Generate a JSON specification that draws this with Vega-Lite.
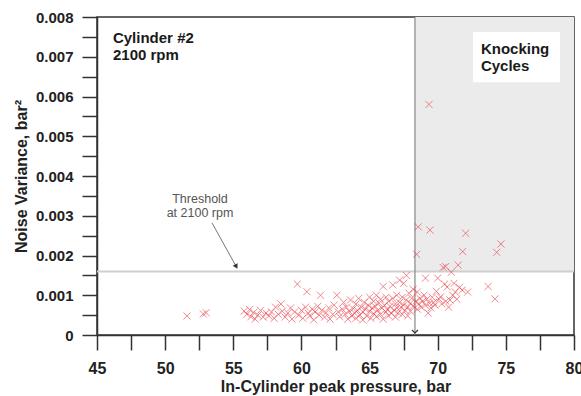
{
  "$schema": "https://vega.github.io/schema/vega-lite/v6.json",
  "width": 477,
  "height": 318,
  "autosize": {"type": "none"},
  "padding": {"left": 97, "top": 17, "right": 7, "bottom": 61},
  "background": "white",
  "config": {"view": {"stroke": "#333", "strokeWidth": 1.5}, "font": "Liberation Sans"},
  "datasets": {
    "pts": [
      {"x":51.6,"y":0.00048},{"x":52.8,"y":0.00053},{"x":53.0,"y":0.00056},
      {"x":55.8,"y":0.00060},{"x":56.0,"y":0.00052},{"x":56.2,"y":0.00064},{"x":56.3,"y":0.00046},{"x":56.5,"y":0.00057},{"x":56.6,"y":0.00040},{"x":56.8,"y":0.00050},{"x":57.0,"y":0.00062},{"x":57.2,"y":0.00045},{"x":57.4,"y":0.00055},{"x":57.6,"y":0.00048},{"x":57.8,"y":0.00058},{"x":58.0,"y":0.00042},{"x":58.1,"y":0.00070},{"x":58.3,"y":0.00052},{"x":58.5,"y":0.00078},{"x":58.6,"y":0.00060},{"x":58.8,"y":0.00045},{"x":59.0,"y":0.00055},{"x":59.2,"y":0.00068},{"x":59.3,"y":0.00040},{"x":59.5,"y":0.00058},{"x":59.7,"y":0.00128},{"x":59.8,"y":0.00050},
      {"x":60.0,"y":0.00062},{"x":60.1,"y":0.00042},{"x":60.3,"y":0.00070},{"x":60.4,"y":0.00109},{"x":60.5,"y":0.00055},{"x":60.6,"y":0.00048},{"x":60.8,"y":0.00065},{"x":60.9,"y":0.00038},{"x":61.0,"y":0.00058},{"x":61.2,"y":0.00072},{"x":61.3,"y":0.00050},{"x":61.4,"y":0.00100},{"x":61.5,"y":0.00062},{"x":61.7,"y":0.00045},{"x":61.8,"y":0.00056},{"x":62.0,"y":0.00068},{"x":62.1,"y":0.00040},{"x":62.3,"y":0.00052},{"x":62.4,"y":0.00075},{"x":62.6,"y":0.00100},{"x":62.7,"y":0.00058},{"x":62.8,"y":0.00046},{"x":63.0,"y":0.00065},{"x":63.1,"y":0.00082},
      {"x":63.2,"y":0.00052},{"x":63.3,"y":0.00070},{"x":63.4,"y":0.00040},{"x":63.5,"y":0.00060},{"x":63.6,"y":0.00088},{"x":63.7,"y":0.00048},{"x":63.8,"y":0.00066},{"x":63.9,"y":0.00055},{"x":64.0,"y":0.00078},{"x":64.0,"y":0.00042},{"x":64.1,"y":0.00062},{"x":64.2,"y":0.00092},{"x":64.3,"y":0.00050},{"x":64.4,"y":0.00070},{"x":64.5,"y":0.00058},{"x":64.5,"y":0.00038},{"x":64.6,"y":0.00082},{"x":64.7,"y":0.00065},{"x":64.8,"y":0.00048},{"x":64.9,"y":0.00075},{"x":65.0,"y":0.00060},{"x":65.0,"y":0.00095},{"x":65.1,"y":0.00042},{"x":65.2,"y":0.00068},{"x":65.3,"y":0.00085},{"x":65.3,"y":0.00054},{"x":65.4,"y":0.00072},{"x":65.5,"y":0.00046},{"x":65.5,"y":0.00100},{"x":65.6,"y":0.00062},{"x":65.7,"y":0.00080},{"x":65.8,"y":0.00052},{"x":65.8,"y":0.00090},{"x":65.9,"y":0.00068},{"x":66.0,"y":0.00040},{"x":66.0,"y":0.00122},{"x":66.1,"y":0.00075},{"x":66.2,"y":0.00058},{"x":66.2,"y":0.00095},
      {"x":66.3,"y":0.00064},{"x":66.4,"y":0.00048},{"x":66.4,"y":0.00085},{"x":66.5,"y":0.00072},{"x":66.6,"y":0.00055},{"x":66.7,"y":0.00126},{"x":66.7,"y":0.00092},{"x":66.8,"y":0.00062},{"x":66.9,"y":0.00078},{"x":66.9,"y":0.00045},{"x":67.0,"y":0.00068},{"x":67.0,"y":0.00100},{"x":67.1,"y":0.00056},{"x":67.2,"y":0.00138},{"x":67.2,"y":0.00082},{"x":67.3,"y":0.00070},{"x":67.4,"y":0.00052},{"x":67.4,"y":0.00095},{"x":67.5,"y":0.00130},{"x":67.5,"y":0.00075},{"x":67.6,"y":0.00062},{"x":67.7,"y":0.00150},{"x":67.7,"y":0.00088},{"x":67.8,"y":0.00070},{"x":67.8,"y":0.00048},{"x":67.9,"y":0.00105},{"x":68.0,"y":0.00080},{"x":68.0,"y":0.00060},{"x":68.1,"y":0.00092},{"x":68.2,"y":0.00072},{"x":68.2,"y":0.00115},
      {"x":68.4,"y":0.00085},{"x":68.5,"y":0.00108},{"x":68.5,"y":0.00065},{"x":68.6,"y":0.00078},{"x":68.7,"y":0.00092},{"x":68.8,"y":0.00070},{"x":68.9,"y":0.00085},{"x":69.0,"y":0.00100},{"x":69.1,"y":0.00075},{"x":69.1,"y":0.00143},{"x":69.2,"y":0.00090},{"x":69.3,"y":0.00055},{"x":69.4,"y":0.00080},{"x":69.5,"y":0.00068},{"x":69.6,"y":0.00095},{"x":69.7,"y":0.00082},{"x":69.8,"y":0.00075},{"x":69.9,"y":0.00110},{"x":70.0,"y":0.00143},{"x":70.1,"y":0.00090},{"x":70.2,"y":0.00096},{"x":70.3,"y":0.00078},{"x":70.4,"y":0.00170},{"x":70.5,"y":0.00128},{"x":70.6,"y":0.00085},{"x":70.7,"y":0.00121},{"x":70.8,"y":0.00070},{"x":70.9,"y":0.00088},{"x":71.0,"y":0.00158},{"x":71.1,"y":0.00100},{"x":71.2,"y":0.00130},{"x":71.3,"y":0.00108},{"x":71.4,"y":0.00090},{"x":71.5,"y":0.00176},{"x":71.6,"y":0.00120},{"x":71.8,"y":0.00113},{"x":72.2,"y":0.00108},{"x":73.7,"y":0.00122},{"x":74.2,"y":0.00091},
      {"x":68.57,"y":0.00272},{"x":69.43,"y":0.00264},{"x":72.05,"y":0.00256},{"x":71.83,"y":0.00210},{"x":74.64,"y":0.00229},{"x":74.33,"y":0.00208},{"x":68.45,"y":0.00203},{"x":70.58,"y":0.00172},{"x":69.36,"y":0.0058}
    ]
  },
  "encoding": {
    "x": {"field": "x", "type": "quantitative", "title": "In-Cylinder peak pressure, bar",
      "scale": {"domain": [45, 80], "nice": false, "zero": false},
      "axis": {
        "values": [45, 47.5, 50, 52.5, 55, 57.5, 60, 62.5, 65, 67.5, 70, 72.5, 75, 77.5, 80],
        "grid": false,
        "domainColor": "#333", "domainWidth": 1.5, "tickColor": "#333", "tickWidth": 1.5,
        "tickSize": 15,
        "encode": {"ticks": {"update": {"y2": {"signal": "datum.value % 5 === 0 ? 15 : 8"}}}},
        "labelExpr": "datum.value % 5 === 0 ? format(datum.value, 'd') : ''",
        "labelFont": "Liberation Sans", "labelFontWeight": "bold", "labelFontSize": 16, "labelColor": "#222", "labelPadding": 10,
        "labelFlush": false, "labelOverlap": false,
        "titleFont": "Liberation Sans", "titleFontWeight": "bold", "titleFontSize": 16, "titleColor": "#222", "titlePadding": 2
      }
    },
    "y": {"field": "y", "type": "quantitative", "title": "Noise Variance, bar²",
      "scale": {"domain": [0, 0.008], "nice": false},
      "axis": {
        "values": [0, 0.0005, 0.001, 0.0015, 0.002, 0.0025, 0.003, 0.0035, 0.004, 0.0045, 0.005, 0.0055, 0.006, 0.0065, 0.007, 0.0075, 0.008],
        "grid": false,
        "domainColor": "#333", "domainWidth": 1.5, "tickColor": "#333", "tickWidth": 1.5,
        "tickSize": 15,
        "encode": {"ticks": {"update": {"x2": {"signal": "abs(datum.value*1000 - round(datum.value*1000)) < 0.001 ? -15 : -7"}}}},
        "labelExpr": "abs(datum.value*1000 - round(datum.value*1000)) < 0.001 ? (datum.value == 0 ? '0' : format(datum.value, '.3f')) : ''",
        "labelFont": "Liberation Sans", "labelFontWeight": "bold", "labelFontSize": 15, "labelColor": "#222", "labelPadding": 9,
        "labelFlush": false, "labelOverlap": false,
        "titleFont": "Liberation Sans", "titleFontWeight": "bold", "titleFontSize": 16, "titleColor": "#222", "titlePadding": 6
      }
    }
  },
  "layer": [
    {
      "data": {"values": [{"x": 68.33, "x2": 80, "y": 0.0016, "y2": 0.008}]},
      "mark": {"type": "rect", "color": "#ebebeb"},
      "encoding": {"x2": {"field": "x2"}, "y2": {"field": "y2"}}
    },
    {
      "data": {"values": [{"x": 45, "x2": 80, "y": 0.0016}]},
      "mark": {"type": "rule", "color": "#cfcfcf", "strokeWidth": 2},
      "encoding": {"x2": {"field": "x2"}}
    },
    {
      "data": {"values": [{"x": 68.33, "y": 0, "y2": 0.008}]},
      "mark": {"type": "rule", "color": "#858585", "strokeWidth": 1.2},
      "encoding": {"y2": {"field": "y2"}}
    },
    {
      "data": {"name": "pts"},
      "mark": {"type": "point", "shape": "M-1,-1L1,1M1,-1L-1,1", "size": 50, "filled": false, "color": "#e82c36", "strokeWidth": 1, "strokeOpacity": 0.8}
    },
    {
      "data": {"values": [{"x": 72.59, "x2": 78.97, "y": 0.00636, "y2": 0.00762}]},
      "mark": {"type": "rect", "color": "white"},
      "encoding": {"x2": {"field": "x2"}, "y2": {"field": "y2"}}
    },
    {
      "data": {"values": [
        {"x": 46.17, "y": 0.00735, "t": "Cylinder #2"},
        {"x": 46.17, "y": 0.00692, "t": "2100 rpm"},
        {"x": 73.17, "y": 0.00707, "t": "Knocking"},
        {"x": 73.17, "y": 0.00664, "t": "Cycles"}
      ]},
      "mark": {"type": "text", "font": "Liberation Sans", "fontWeight": "bold", "fontSize": 15, "align": "left", "baseline": "alphabetic", "color": "#1a1a1a"},
      "encoding": {"text": {"field": "t"}}
    },
    {
      "data": {"values": [
        {"x": 52.56, "y": 0.00332, "t": "Threshold"},
        {"x": 52.56, "y": 0.00297, "t": "at 2100 rpm"}
      ]},
      "mark": {"type": "text", "font": "Liberation Sans", "fontSize": 12.5, "align": "center", "baseline": "alphabetic", "color": "#555"},
      "encoding": {"text": {"field": "t"}}
    },
    {
      "data": {"values": [{"x": 53.44, "y": 0.00282, "x2": 55.22, "y2": 0.00172}]},
      "mark": {"type": "rule", "color": "#777", "strokeWidth": 1},
      "encoding": {"x2": {"field": "x2"}, "y2": {"field": "y2"}}
    },
    {
      "data": {"values": [{"x": 55.22, "y": 0.00172}]},
      "mark": {"type": "point", "shape": "triangle-down", "filled": true, "size": 30, "angle": -28, "color": "#333", "opacity": 1}
    },
    {
      "data": {"values": [{"x": 68.33, "y": 0.00005}]},
      "mark": {"type": "point", "shape": "M-1,-1L0,0L1,-1", "size": 36, "filled": false, "color": "#333", "strokeWidth": 1.2, "opacity": 1}
    }
  ]
}
